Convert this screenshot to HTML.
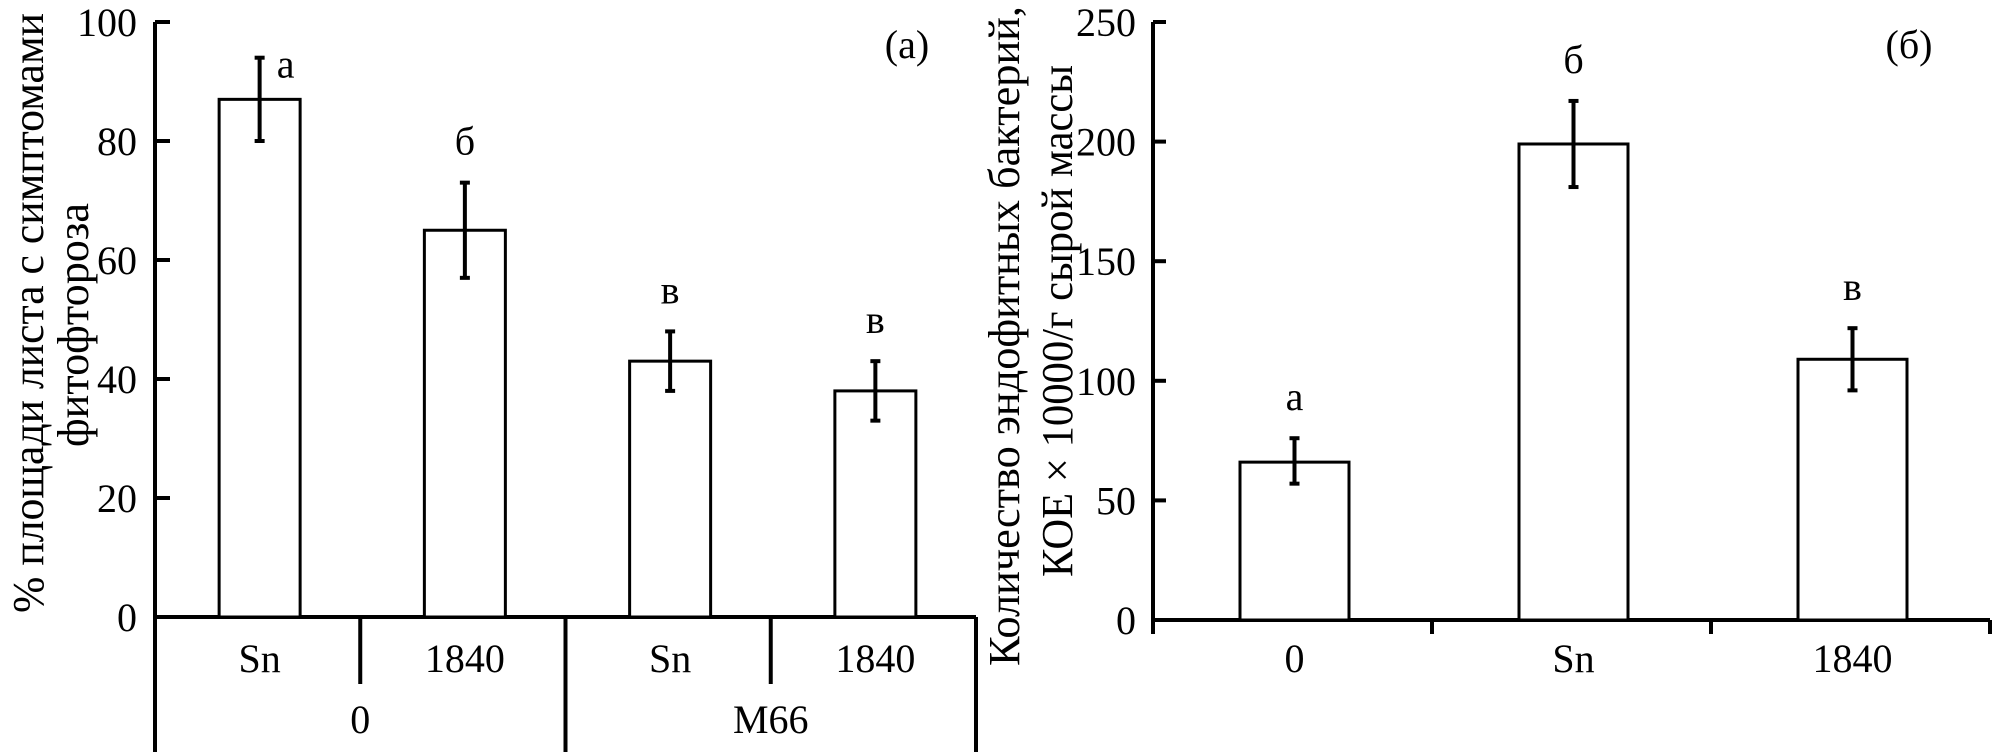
<!DOCTYPE html>
<html><head><meta charset="utf-8"><style>
html,body{margin:0;padding:0;background:#fff;}
svg{display:block;}
text{font-family:"Liberation Serif","Noto Serif CJK SC",serif;fill:#000;}
</style></head><body>
<svg id="c" width="2001" height="755" viewBox="0 0 2001 755" xmlns="http://www.w3.org/2000/svg"></svg>
<script>
// Panel (a)
const catsA = ["Sn","1840","Sn","1840"];
const groupsA = ["0","M66"];
const valsA = [87,65,43,38];
const errLoA = [80,57,38,33];
const errHiA = [94,73,48,43];
const lettersA = ["а","б","в","в"];
const ticksA = [0,20,40,60,80,100];
// Panel (b)
const catsB = ["0","Sn","1840"];
const valsB = [66,199,109];
const errLoB = [57,181,96];
const errHiB = [76,217,122];
const lettersB = ["а","б","в"];
const ticksB = [0,50,100,150,200,250];

const svg = document.getElementById('c');
const NS = "http://www.w3.org/2000/svg";
function el(tag, attrs, parent){ const e=document.createElementNS(NS,tag); for(const k in attrs) e.setAttribute(k,attrs[k]); (parent||svg).appendChild(e); return e; }
function line(x1,y1,x2,y2,w,name){ const e=el('line',{x1,y1,x2,y2,stroke:'#000','stroke-width':w});
  
  
  return e; }
function txt(x,y,s,size,anchor,name,extra){ const e=el('text',Object.assign({x,y,'font-size':size,'text-anchor':anchor||'middle'},extra||{})); e.textContent=s;
  
  
  return e; }

// ---- Panel A ----
const ax = 155, y0A = 617, y100A = 22, maxA = 100, rightA = 976;
const yA = v => y0A - (v/maxA)*(y0A - y100A);
const slotW = (rightA-ax)/catsA.length;
const barW = 81;
line(ax, yA(maxA), ax, 752, 4, 'y-axis-a');
line(ax, y0A, rightA, y0A, 4, 'x-axis-a');
ticksA.forEach(t=>{ line(ax, yA(t), ax+15, yA(t), 4, 'y-tick-a');
  txt(137, yA(t)+14, String(t), 40, 'end', 'y-tick-label-a'); });
catsA.forEach((c,i)=>{
  const cx = ax + slotW*(i+0.5) + 2;
  const b = el('rect',{x:cx-barW/2,y:yA(valsA[i]),width:barW,height:y0A-yA(valsA[i]),fill:'#fff',stroke:'#000','stroke-width':3});
  
  
  line(cx, yA(errHiA[i]), cx, yA(errLoA[i]), 4, 'error-bar-a');
  line(cx-5, yA(errHiA[i]), cx+5, yA(errHiA[i]), 4, 'error-cap-a');
  line(cx-5, yA(errLoA[i]), cx+5, yA(errLoA[i]), 4, 'error-cap-a');
  const lx = i===0 ? cx+26 : cx;
  const ly = i===0 ? yA(errHiA[i])+20 : yA(errHiA[i])-28;
  txt(lx, ly, lettersA[i], 40, 'middle', 'significance-letter-a');
  txt(cx, 672, c, 40, 'middle', 'x-tick-label-a');
});
for(let i=1;i<=catsA.length;i++){
  const x = ax + slotW*i;
  const full = (i%2===0);
  line(x, y0A, x, full?752:684, 4, 'category-divider-a');
}
groupsA.forEach((g,j)=>{ const cx = ax + slotW*(2*j+1); txt(cx, 733, g, 40, 'middle', 'group-label-a'); });
txt(907, 58, "(а)", 40, 'middle', 'panel-label-a');
txt(0,0,"% площади листа с симптомами",44,'middle','y-axis-title-a',{transform:'translate(43,313) rotate(-90)',textLength:600,lengthAdjust:'spacingAndGlyphs'});
txt(0,0,"фитофтороза",44,'middle','y-axis-title-a-2',{transform:'translate(88,325) rotate(-90)',textLength:244,lengthAdjust:'spacingAndGlyphs'});

// ---- Panel B ----
const bx = 1153, y0B = 620, yTopB = 22, maxB = 250, rightB = 1990;
const yB = v => y0B - (v/maxB)*(y0B - yTopB);
const slotB = (rightB-bx)/catsB.length;
const barWB = 109;
line(bx, yB(maxB), bx, 634, 4, 'y-axis-b');
line(bx, y0B, rightB, y0B, 4, 'x-axis-b');
ticksB.forEach(t=>{ line(bx, yB(t), bx+13, yB(t), 4, 'y-tick-b');
  txt(1136, yB(t)+14, String(t), 40, 'end', 'y-tick-label-b'); });
for(let i=1;i<=catsB.length;i++){ const x=bx+slotB*i; line(x, y0B, x, 634, 4, 'x-tick-b'); }
catsB.forEach((c,i)=>{
  const cx = bx + slotB*(i+0.5) + 2;
  const b = el('rect',{x:cx-barWB/2,y:yB(valsB[i]),width:barWB,height:y0B-yB(valsB[i]),fill:'#fff',stroke:'#000','stroke-width':3});
  
  
  line(cx, yB(errHiB[i]), cx, yB(errLoB[i]), 4, 'error-bar-b');
  line(cx-5, yB(errHiB[i]), cx+5, yB(errHiB[i]), 4, 'error-cap-b');
  line(cx-5, yB(errLoB[i]), cx+5, yB(errLoB[i]), 4, 'error-cap-b');
  txt(cx, yB(errHiB[i])-28, lettersB[i], 40, 'middle', 'significance-letter-b');
  txt(cx, 672, c, 40, 'middle', 'x-tick-label-b');
});
txt(1909, 58, "(б)", 40, 'middle', 'panel-label-b');
txt(0,0,"Количество эндофитных бактерий,",44,'middle','y-axis-title-b',{transform:'translate(1019,336) rotate(-90)',textLength:660,lengthAdjust:'spacingAndGlyphs'});
txt(0,0,"КОЕ × 10000/г сырой массы",44,'middle','y-axis-title-b-2',{transform:'translate(1072,321) rotate(-90)',textLength:512,lengthAdjust:'spacingAndGlyphs'});
</script>
</body></html>
